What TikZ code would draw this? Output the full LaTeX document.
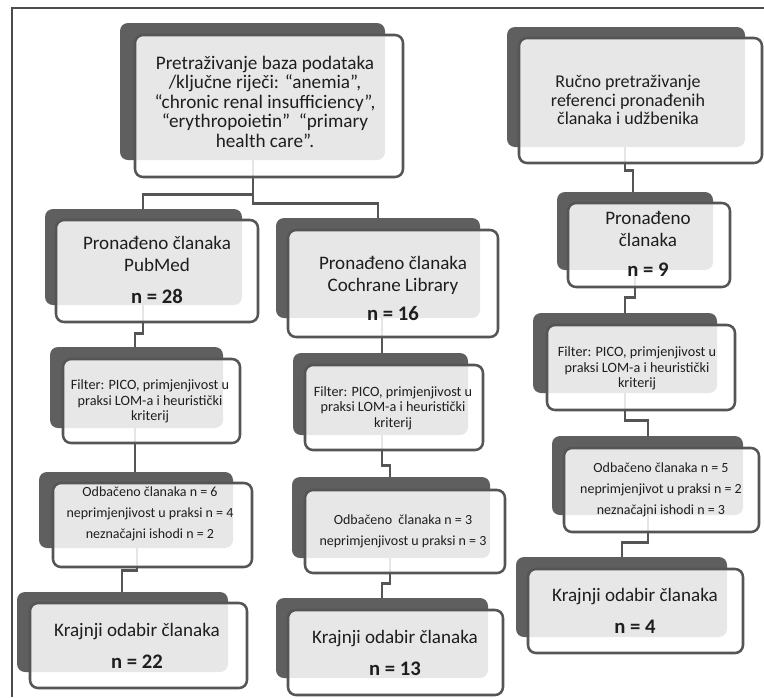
\documentclass[tikz,border=0pt]{standalone}
\usepackage{fontspec}
\setmainfont{Carlito}
\usetikzlibrary{fit}
\definecolor{dk}{RGB}{95,95,95}
\definecolor{ln}{RGB}{85,85,85}
\definecolor{tx}{RGB}{30,30,30}
\newcommand{\nbold}[1]{{\fontsize{15.5}{16}\selectfont\bfseries #1}}
\tikzset{
  backbox/.style={rectangle, rounded corners=6pt, fill=dk, draw=none, inner sep=0pt},
  frontbox/.style={rectangle, rounded corners=6pt, draw=ln, line width=1.9pt, fill=white, fill opacity=0.85, inner sep=0pt},
  conn/.style={draw=ln, line width=1.9pt},
  frameline/.style={draw=ln!90!black, line width=1.5pt},
  txt/.style={align=center, text=tx, inner sep=0pt},
  topt/.style={txt, font=\fontsize{14.4}{14.6}\selectfont},
  rucnot/.style={txt, font=\fontsize{13.5}{13.9}\selectfont},
  bigt/.style={txt, font=\fontsize{14.3}{16.5}\selectfont},
  krajt/.style={txt, font=\fontsize{14.3}{24}\selectfont},
  filtert/.style={txt, font=\fontsize{10.66}{11.6}\selectfont},
  odbt/.style={txt, font=\fontsize{10.5}{15.75}\selectfont},
}
\begin{document}
\begin{tikzpicture}[x=0.75pt,y=-0.75pt]
\useasboundingbox (0,0) rectangle (764,697);
% outer frame
\coordinate (fbl) at (12,697);
\coordinate (ftl) at (12,8);
\coordinate (ftr) at (764,8);
\draw[frameline] (fbl) -- (ftl) -- (ftr);

% back boxes
\node[backbox, fit={(120,23) (385,160)}] (Ab) {};
\node[backbox, fit={(507,27) (745,147)}] (Rb) {};
\node[backbox, fit={(45,209) (242,305)}] (P1b) {};
\node[backbox, fit={(276,218) (480,318)}] (C1b) {};
\node[backbox, fit={(557,192) (713,270)}] (R1b) {};
\node[backbox, fit={(50,347) (223,428)}] (P2b) {};
\node[backbox, fit={(293,353) (468,435)}] (C2b) {};
\node[backbox, fit={(533,313) (717,393)}] (R2b) {};
\node[backbox, fit={(39,472) (233,548)}] (P3b) {};
\node[backbox, fit={(292,477) (490,558)}] (C3b) {};
\node[backbox, fit={(552,436) (743,515)}] (R3b) {};
\node[backbox, fit={(17,592) (228,672)}] (P4b) {};
\node[backbox, fit={(276,598) (488,678)}] (C4b) {};
\node[backbox, fit={(516,557) (727,637)}] (R4b) {};

% connectors
\draw[conn] (Ab.south -| 253,0) -- ++(0,34) -| (P1b.north -| 143,0);
\draw[conn] (Ab.south -| 253,0) -- ++(0,43) -| (C1b.north -| 378,0);
\draw[conn] (P1b.south -| 143,0) -- ++(0,28) -| (P2b.north -| 135,0);
\draw[conn] (P2b.south -| 135,0) -- (P3b.north -| 135,0);
\draw[conn] (P3b.south -| 137,0) -- ++(0,22) -| (P4b.north -| 122,0);
\draw[conn] (C1b.south -| 382,0) -- (C2b.north -| 382,0);
\draw[conn] (C2b.south -| 382,0) -- ++(0,30) -| (C3b.north -| 390,0);
\draw[conn] (C3b.south -| 390,0) -- ++(0,25) -| (C4b.north -| 382,0);
\draw[conn] (Rb.south -| 625,0) -- ++(0,23) -| (R1b.north -| 633,0);
\draw[conn] (R1b.south -| 635,0) -- ++(0,27) -| (R2b.north -| 625,0);
\draw[conn] (R2b.south -| 625,0) -- ++(0,27) -| (R3b.north -| 648,0);
\draw[conn] (R3b.south -| 648,0) -- ++(0,27) -| (R4b.north -| 622,0);

% front boxes
\node[frontbox, fit={(135,35) (403,177)}] (Af) {};
\node[frontbox, fit={(519,38) (762,163)}] (Rf) {};
\node[frontbox, fit={(56,220) (258,322)}] (P1f) {};
\node[frontbox, fit={(288,230) (498,337)}] (C1f) {};
\node[frontbox, fit={(568,203) (730,287)}] (R1f) {};
\node[frontbox, fit={(63,359) (240,443)}] (P2f) {};
\node[frontbox, fit={(305,365) (483,450)}] (C2f) {};
\node[frontbox, fit={(547,325) (735,410)}] (R2f) {};
\node[frontbox, fit={(53,483) (252,567)}] (P3f) {};
\node[frontbox, fit={(305,490) (505,573)}] (C3f) {};
\node[frontbox, fit={(564,448) (759,532)}] (R3f) {};
\node[frontbox, fit={(30,603) (247,688)}] (P4f) {};
\node[frontbox, fit={(288,610) (503,695)}] (C4f) {};
\node[frontbox, fit={(528,569) (743,653)}] (R4f) {};

% texts
\node[topt] (At) at (265,101.5) {Pretraživanje baza podataka\\/ključne riječi: “anemia”,\\“chronic renal insufficiency”,\\“erythropoietin”~~“primary\\health care”.};
\node[rucnot] (Rt) at (628,100) {Ručno pretraživanje\\referenci pronađenih\\članaka i udžbenika};
\node[bigt] (P1t) at (157,270) {Pronađeno članaka\\PubMed\\[7pt]\nbold{n = 28}};
\node[bigt] (C1t) at (393,288.5) {Pronađeno članaka\\Cochrane Library\\[4.75pt]\nbold{n = 16}};
\node[bigt] (R1t) at (648,244) {Pronađeno\\članaka\\[5.5pt]\nbold{n = 9}};
\node[filtert] (P2t) at (150,401.5) {Filter: PICO, primjenjivost u\\praksi LOM-a i heuristički\\kriterij};
\node[filtert] (C2t) at (393,408) {Filter: PICO, primjenjivost u\\praksi LOM-a i heuristički\\kriterij};
\node[filtert] (R2t) at (637,368.5) {Filter: PICO, primjenjivost u\\praksi LOM-a i heuristički\\kriterij};
\node[odbt] (P3t) at (150,514) {Odbačeno članaka n = 6\\neprimjenjivost u praksi n = 4\\neznačajni ishodi n = 2};
\node[odbt] (C3t) at (403,531) {Odbačeno~~članaka n = 3\\neprimjenjivost u praksi n = 3};
\node[odbt] (R3t) at (661,490) {Odbačeno članaka n = 5\\neprimjenjivot u praksi n = 2\\neznačajni ishodi n = 3};
\node[krajt] (P4t) at (137,646) {Krajnji odabir članaka\\\nbold{n = 22}};
\node[krajt] (C4t) at (395,652.5) {Krajnji odabir članaka\\\nbold{n = 13}};
\node[krajt] (R4t) at (635,611) {Krajnji odabir članaka\\\nbold{n = 4}};
\end{tikzpicture}
\end{document}
